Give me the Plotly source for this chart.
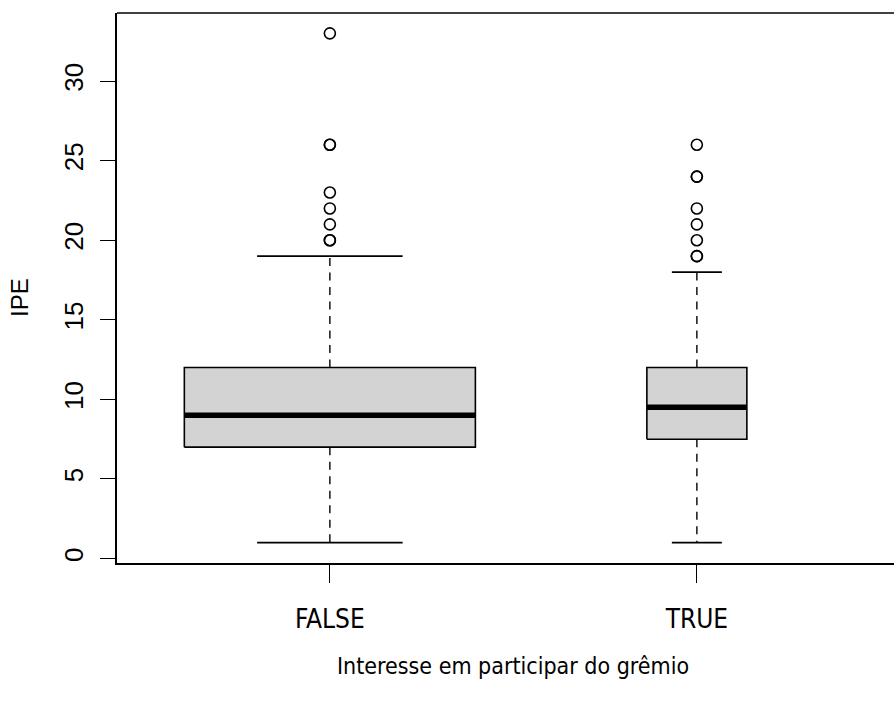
import plotly.graph_objects as go

# ---- data ----
categories = ["FALSE", "TRUE"]
lower_whisker = [1, 1]
q1 = [7, 7.5]
median = [9, 9.5]
q3 = [12, 12]
upper_whisker = [19, 18]
outliers_false = [20, 20, 21, 22, 23, 26, 26, 33]
outliers_true = [19, 19, 20, 21, 22, 24, 24, 26]
outliers = [outliers_false, outliers_true]
y_ticks = [0, 5, 10, 15, 20, 25, 30]

# ---- styling ----
BOX_WIDTHS = [0.793, 0.2725]   # varwidth boxes
STAPLE = 0.5                   # cap width relative to box
FILL = "#D3D3D3"
TICK_FONT = dict(family="Liberation Sans, Arial, sans-serif", size=26, color="black")
X_FAMILY = "Liberation Sans Narrow, DejaVu Sans Condensed, Liberation Sans"
X_FONT = dict(family=X_FAMILY, size=26, color="black")
TITLE_FONT = dict(family=X_FAMILY, size=23, color="black")

fig = go.Figure()
positions = [i + 1 for i in range(len(categories))]

for i, pos in enumerate(positions):
    w = BOX_WIDTHS[i]
    l, r = pos - w / 2, pos + w / 2
    # dashed whiskers
    for a, b in ((q3[i], upper_whisker[i]), (q1[i], lower_whisker[i])):
        fig.add_trace(go.Scatter(x=[pos, pos], y=[a, b], mode="lines",
                                 line=dict(color="#222222", width=1.6, dash="8px,6.5px"),
                                 showlegend=False, hoverinfo="skip"))
    # caps
    for v in (upper_whisker[i], lower_whisker[i]):
        fig.add_trace(go.Scatter(x=[pos - w * STAPLE / 2, pos + w * STAPLE / 2], y=[v, v],
                                 mode="lines", line=dict(color="black", width=1.8),
                                 showlegend=False, hoverinfo="skip"))
    # box
    fig.add_trace(go.Scatter(x=[l, r, r, l, l], y=[q1[i], q1[i], q3[i], q3[i], q1[i]],
                             mode="lines", fill="toself", fillcolor=FILL,
                             line=dict(color="black", width=1.6),
                             showlegend=False, hoverinfo="skip"))
    # median
    fig.add_trace(go.Scatter(x=[l, r], y=[median[i], median[i]], mode="lines",
                             line=dict(color="black", width=5.5),
                             showlegend=False, hoverinfo="skip"))
    # outliers
    fig.add_trace(go.Scatter(x=[pos] * len(outliers[i]), y=outliers[i], mode="markers",
                             marker=dict(symbol="circle-open", size=11, color="black",
                                         line=dict(width=1.6, color="black")),
                             showlegend=False, hoverinfo="skip"))

fig.update_layout(
    width=894, height=702,
    margin=dict(l=117, r=0, t=13, b=139),
    plot_bgcolor="white", paper_bgcolor="white",
    showlegend=False, hovermode=False,
)
fig.update_xaxes(
    range=[0.42, 0.42 + 777 / 367], tickvals=positions, ticktext=categories,
    showgrid=False, zeroline=False, showline=True, linecolor="black", linewidth=1.6,
    ticks="outside", ticklen=18, tickwidth=1.3, tickcolor="black",
    tickfont=X_FONT, ticklabelstandoff=14,
)
fig.update_yaxes(
    range=[-0.28, 34.28], tickvals=y_ticks, ticktext=[str(v) for v in y_ticks],
    showgrid=False, zeroline=False, showline=True, linecolor="black", linewidth=1.6,
    ticks="outside", ticklen=15, tickwidth=1.3, tickcolor="black",
    tickfont=TICK_FONT, tickangle=-90, ticklabelstandoff=7,
)
# top frame line
fig.add_shape(type="line", xref="paper", yref="paper", x0=0, x1=1, y0=1, y1=1,
              line=dict(color="black", width=1.6))

fig.add_annotation(text="IPE", xref="paper", yref="paper", x=(20 - 117) / 777, y=0.482,
                   textangle=-90, showarrow=False, xanchor="center", yanchor="middle",
                   font=dict(family="Liberation Sans, Arial, sans-serif", size=24, color="black"))
fig.add_annotation(text="Interesse em participar do grêmio", xref="x", yref="paper",
                   x=1.5, y=(563 - 666) / 550, showarrow=False,
                   xanchor="center", yanchor="middle", font=TITLE_FONT)

fig.write_html("out.html")
